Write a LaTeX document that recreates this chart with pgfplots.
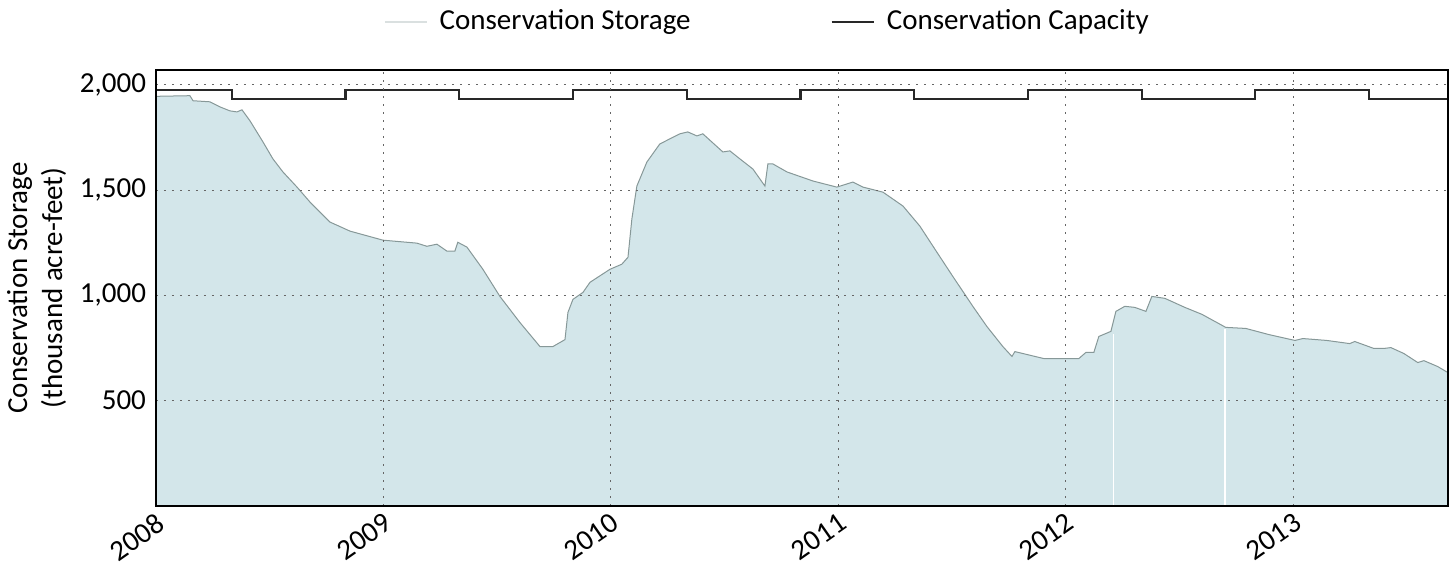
\documentclass[border=0pt]{standalone}
\usepackage{fontspec}
\setmainfont{Carlito}
\usepackage{pgfplots}
\pgfplotsset{compat=1.18}
\definecolor{storfill}{RGB}{211,230,234}
\definecolor{storedge}{RGB}{135,152,152}
\definecolor{storleg}{RGB}{218,224,224}
\definecolor{capline}{RGB}{40,40,40}
\begin{document}
\fontsize{14.5}{16}\selectfont
\begin{tikzpicture}
\begin{axis}[
  at={(0,0)}, anchor=south west,
  scale only axis,
  width=646pt, height=218pt,
  xmin=2008, xmax=2013.68,
  ymin=0, ymax=2070,
  xtick={2008,2009,2010,2011,2012,2013},
  xticklabels={2008,2009,2010,2011,2012,2013},
  xticklabel style={rotate=35, anchor=north east, inner sep=2pt},
  ytick={500,1000,1500,2000},
  yticklabels={500,{1,000},{1,500},{2,000}},
  grid=major,
  major grid style={dash pattern=on 1pt off 3pt, black!60, line width=0.5pt},
  axis line style={line width=1pt},
  tick style={draw=none},
  axis on top,
  ylabel={Conservation Storage\\(thousand acre-feet)},
  ylabel style={align=center, font=\fontsize{14.5}{17.5}\selectfont},
  ylabel shift=-3pt,
  legend columns=2,
  legend style={draw=none, fill=none, at={(0.474,1.11)}, anchor=center,
    /tikz/every odd column/.append style={column sep=4pt},
    /tikz/every even column/.append style={column sep=68pt}},
  legend image code/.code={\draw[#1] (0pt,0pt) -- (21pt,0pt);},
]
% storage (thousand acre-feet)
\addplot[fill=storfill, draw=storedge, line width=0.5pt, forget plot] coordinates {
(2008.000,1945) (2008.149,1948) (2008.163,1924) (2008.237,1919) (2008.281,1895)
(2008.325,1876) (2008.356,1871) (2008.378,1881) (2008.413,1829) (2008.470,1729)
(2008.514,1648) (2008.558,1586) (2008.620,1514) (2008.677,1443) (2008.765,1348)
(2008.853,1305) (2008.998,1262) (2009.147,1248) (2009.191,1233) (2009.235,1243)
(2009.279,1210) (2009.314,1210) (2009.327,1252) (2009.367,1229) (2009.437,1124)
(2009.512,995) (2009.600,871) (2009.688,757) (2009.745,757) (2009.798,790)
(2009.811,919) (2009.833,981) (2009.877,1014) (2009.908,1062) (2009.996,1124)
(2010.048,1148) (2010.075,1181) (2010.092,1362) (2010.114,1519) (2010.158,1633)
(2010.215,1719) (2010.303,1767) (2010.338,1776) (2010.378,1757) (2010.404,1767)
(2010.492,1681) (2010.523,1686) (2010.567,1648) (2010.624,1600) (2010.677,1519)
(2010.690,1624) (2010.712,1624) (2010.774,1586) (2010.888,1543) (2010.993,1514)
(2011.064,1538) (2011.108,1514) (2011.196,1490) (2011.284,1424) (2011.358,1329)
(2011.433,1205) (2011.503,1090) (2011.591,948) (2011.653,852) (2011.723,757)
(2011.763,710) (2011.776,733) (2011.903,700) (2012.057,700) (2012.088,729)
(2012.123,729) (2012.145,805) (2012.198,829) (2012.220,924) (2012.259,948)
(2012.303,943) (2012.352,924) (2012.378,995) (2012.435,986) (2012.523,943)
(2012.598,910) (2012.703,848) (2012.791,843) (2012.892,814) (2013.007,786)
(2013.042,795) (2013.147,786) (2013.248,771) (2013.270,781) (2013.354,748)
(2013.398,748) (2013.429,752) (2013.486,724) (2013.547,681) (2013.574,690)
(2013.635,662) (2013.680,633)
} \closedcycle;
% thin white gaps in the fill
\addplot[ycomb, white, line width=0.8pt, forget plot] coordinates {
(2012.21,818) (2012.70,840)
};
\addlegendimage{storleg, line width=0.8pt}
\addlegendentry{Conservation Storage}
\addplot[const plot, capline, line width=1.1pt] coordinates {
(2008.000,1976) (2008.333,1932) (2008.833,1976) (2009.333,1932) (2009.833,1976)
(2010.333,1932) (2010.833,1976) (2011.333,1932) (2011.833,1976) (2012.333,1932)
(2012.833,1976) (2013.333,1932) (2013.680,1932)
};
\addlegendentry{Conservation Capacity}
\end{axis}
\pgfresetboundingbox
\path (-78pt,-30.5pt) rectangle (648.5pt,253pt);
\end{tikzpicture}
\end{document}
